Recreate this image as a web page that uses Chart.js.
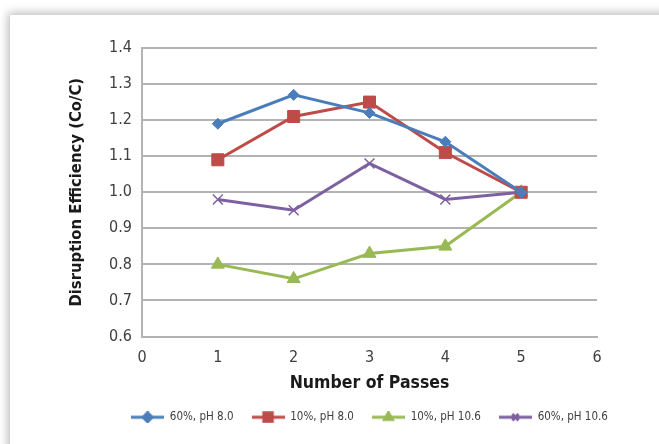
<!DOCTYPE html>
<html>
<head>
<meta charset="utf-8">
<script src="https://cdn.jsdelivr.net/npm/chart.js@4"></script>
<style>
  html, body { margin: 0; padding: 0; background: #fff; overflow: hidden; }
  #card {
    position: absolute; left: 10px; top: 15px; width: 700px; height: 480px;
    background: #fff; box-shadow: 0 0 9px 2px rgba(0,0,0,0.28);
  }
  #wrap { position: absolute; left: 0; top: 0; width: 659px; height: 444px; }
</style>
</head>
<body>
<div id="card"></div>
<div id="wrap"><canvas id="passChart" width="659" height="444"></canvas></div>
<script>
const passes = [1, 2, 3, 4, 5];
const seriesNames = ["60%, pH 8.0", "10%, pH 8.0", "10%, pH 10.6", "60%, pH 10.6"];
const blue60ph8 = [1.19, 1.27, 1.22, 1.14, 1.00];
const red10ph8 = [1.09, 1.21, 1.25, 1.11, 1.00];
const green10ph106 = [0.80, 0.76, 0.83, 0.85, 1.00];
const purple60ph106 = [0.98, 0.95, 1.08, 0.98, 1.00];
const yTicks = [0.6, 0.7, 0.8, 0.9, 1.0, 1.1, 1.2, 1.3, 1.4];
const xTicks = [0, 1, 2, 3, 4, 5, 6];

const font = "'Liberation Sans Narrow', 'DejaVu Sans Condensed', sans-serif";
const colors = ["#4a7ebb", "#be4b48", "#98b954", "#7d60a0"];
const styles = ["rectRot", "rect", "triangle", "crossRot"];
const sizes = [5.5, 8.5, 7.5, 7];

function toPoints(vals) {
  return vals.map((v, i) => ({ x: passes[i], y: v }));
}

// small canvas with line + marker for the legend
function legendIcon(color, style) {
  const c = document.createElement("canvas");
  c.width = 33; c.height = 12;
  const g = c.getContext("2d");
  g.strokeStyle = color; g.fillStyle = color; g.lineWidth = 3;
  g.beginPath(); g.moveTo(0, 6); g.lineTo(33, 6); g.stroke();
  Chart.helpers.drawPoint(g, { pointStyle: style, radius: style === "rect" ? 6 : 4.5, borderWidth: 1.5 }, 16.5, 6);
  return c;
}

// legend sits centred under the plot area, not the whole canvas
const legendShift = {
  id: "legendShift",
  afterLayout(chart) {
    const lg = chart.legend;
    if (!lg) return;
    const dx = (chart.chartArea.left + chart.chartArea.right) / 2 - (lg.left + lg.right) / 2;
    lg.left += dx;
    lg.right += dx;
  },
};

const allSeries = [blue60ph8, red10ph8, green10ph106, purple60ph106];

const ctx = document.getElementById("passChart").getContext("2d");
const passChart = new Chart(ctx, {
  type: "line",
  data: {
    datasets: allSeries.map((vals, i) => ({
      label: seriesNames[i],
      data: toPoints(vals),
      borderColor: colors[i],
      backgroundColor: colors[i],
      borderWidth: 3,
      pointStyle: styles[i],
      pointRadius: sizes[i],
      pointBorderWidth: styles[i] === "crossRot" ? 1.5 : 1,
      fill: false,
      tension: 0,
    })),
  },
  plugins: [legendShift],
  options: {
    responsive: false,
    animation: false,
    layout: { padding: { left: 62, top: 48, right: 62, bottom: 11 } },
    plugins: {
      tooltip: { enabled: false },
      legend: {
        position: "bottom",
        labels: {
          usePointStyle: true,
          pointStyleWidth: 33,
          color: "#404040",
          font: { family: font, size: 11.5 },
          padding: 18,
          generateLabels: (chart) =>
            chart.data.datasets.map((ds, i) => ({
              text: ds.label,
              fillStyle: ds.borderColor,
              strokeStyle: ds.borderColor,
              fontColor: "#404040",
              pointStyle: legendIcon(colors[i], styles[i]),
              datasetIndex: i,
              lineWidth: 0,
            })),
        },
      },
    },
    scales: {
      x: {
        type: "linear",
        min: 0,
        max: 6,
        afterBuildTicks: (axis) => { axis.ticks = xTicks.map((v) => ({ value: v })); },
        grid: { display: false, drawTicks: false },
        border: { display: true, color: "#b3b3b3", width: 2 },
        ticks: { color: "#404040", font: { family: font, size: 16 }, padding: 12 },
        title: {
          display: true,
          text: "Number of Passes",
          color: "#1a1a1a",
          font: { family: font, size: 17.5, weight: "bold" },
          padding: { top: 4, bottom: 0 },
        },
        afterFit: (axis) => { axis.height = 57; },
      },
      y: {
        min: 0.6,
        max: 1.4,
        afterBuildTicks: (axis) => { axis.ticks = yTicks.map((v) => ({ value: v })); },
        grid: { color: "#b3b3b3", lineWidth: 2, drawTicks: false },
        border: { display: true, color: "#b3b3b3", width: 2 },
        ticks: {
          color: "#404040",
          font: { family: font, size: 16 },
          padding: 10,
          callback: (v) => v.toFixed(1),
        },
        title: {
          display: true,
          text: "Disruption Efficiency (Co/C)",
          color: "#1a1a1a",
          font: { family: font, size: 16.5, weight: "bold" },
          padding: { top: 5, bottom: 0 },
        },
        afterFit: (axis) => { axis.width = 80; },
      },
    },
  },
});
</script>
</body>
</html>
